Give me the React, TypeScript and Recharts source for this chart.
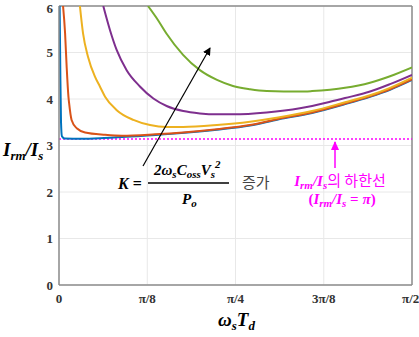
import React from 'react';
import { LineChart, Line, XAxis, YAxis, CartesianGrid, ReferenceLine } from 'recharts';

// x = ωs·Td (rad), y = Irm/Is, one curve per K value (K grows blue -> green)
const xTicks = [0, Math.PI / 8, Math.PI / 4, (3 * Math.PI) / 8, Math.PI / 2];
const xTickLabels = ['0', 'π/8', 'π/4', '3π/8', 'π/2'];
const yTicks = [0, 1, 2, 3, 4, 5, 6];

const blueX = [0.003, 0.006, 0.009, 0.013, 0.025, 0.1, 0.2, 0.35, 0.5, 0.703, 0.85, 0.975, 1.126, 1.273, 1.384, 1.473, 1.571];
const blueY = [6.0, 4.5, 3.5, 3.2, 3.15, 3.145, 3.16, 3.2, 3.25, 3.34, 3.43, 3.56, 3.7, 3.89, 4.05, 4.2, 4.41];

const orangeX = [0.018, 0.027, 0.034, 0.042, 0.045, 0.056, 0.079, 0.116, 0.205, 0.28, 0.427, 0.552, 0.703, 0.85, 0.975, 1.126, 1.273, 1.384, 1.473, 1.571];
const orangeY = [6.0, 5.42, 4.7, 4.05, 3.91, 3.55, 3.37, 3.28, 3.23, 3.21, 3.24, 3.28, 3.35, 3.44, 3.57, 3.71, 3.9, 4.06, 4.21, 4.42];

const yellowX = [0.093, 0.107, 0.129, 0.16, 0.182, 0.205, 0.257, 0.331, 0.405, 0.479, 0.552, 0.703, 0.85, 0.975, 1.126, 1.273, 1.384, 1.473, 1.571];
const yellowY = [6.0, 5.41, 4.91, 4.48, 4.27, 4.05, 3.76, 3.55, 3.44, 3.4, 3.4, 3.44, 3.51, 3.6, 3.74, 3.93, 4.08, 4.24, 4.46];

const purpleX = [0.197, 0.227, 0.257, 0.301, 0.36, 0.42, 0.479, 0.553, 0.627, 0.702, 0.776, 0.924, 1.072, 1.206, 1.273, 1.384, 1.473, 1.571];
const purpleY = [6.0, 5.48, 5.05, 4.62, 4.27, 4.01, 3.85, 3.74, 3.69, 3.67, 3.67, 3.71, 3.8, 3.94, 4.02, 4.16, 4.32, 4.52];

const greenX = [0.396, 0.44, 0.478, 0.552, 0.627, 0.703, 0.774, 0.85, 0.924, 1.0, 1.072, 1.126, 1.206, 1.273, 1.384, 1.473, 1.571];
const greenY = [6.0, 5.7, 5.41, 4.95, 4.62, 4.41, 4.28, 4.21, 4.17, 4.16, 4.16, 4.17, 4.2, 4.24, 4.35, 4.49, 4.68];

const toPoints = (xs: number[], ys: number[]) => xs.map((x, i) => ({ x, y: ys[i] }));

const series = [
  { name: 'k1', data: toPoints(blueX, blueY), color: '#0072BD' },
  { name: 'k2', data: toPoints(orangeX, orangeY), color: '#D95319' },
  { name: 'k3', data: toPoints(yellowX, yellowY), color: '#EDB120' },
  { name: 'k4', data: toPoints(purpleX, purpleY), color: '#7E2F8E' },
  { name: 'k5', data: toPoints(greenX, greenY), color: '#77AC30' },
];

const serif = '"Liberation Serif", "Times New Roman", serif';
const kr = '"Noto Sans CJK KR", sans-serif';
const axisGray = '#8c8c8c';
const tickStyle = { fontFamily: serif, fontWeight: 'bold' as const, fontSize: 13, fill: '#333' };

const App: React.FC = () => {
  return (
    <div style={{ position: 'absolute', left: 0, top: 0, width: 419, height: 337, background: '#fff' }}>
      <LineChart width={419} height={337} margin={{ top: 6, right: 7, bottom: 0, left: 0 }}>
        <CartesianGrid stroke="#e8e8e8" verticalValues={xTicks} horizontalValues={yTicks} />
        <XAxis
          type="number"
          dataKey="x"
          domain={[0, Math.PI / 2]}
          ticks={xTicks}
          tickFormatter={(v: number) => xTickLabels[xTicks.findIndex(t => Math.abs(t - v) < 1e-6)] ?? ''}
          height={52}
          tickLine={false}
          tickSize={4}
          tickMargin={5}
          tick={tickStyle}
          stroke={axisGray}
          strokeWidth={1.5}
          allowDataOverflow
        />
        <YAxis
          type="number"
          domain={[0, 6]}
          ticks={yTicks}
          width={59}
          tickLine={false}
          tickSize={3}
          tickMargin={3}
          tick={tickStyle}
          stroke={axisGray}
          strokeWidth={1.5}
          allowDataOverflow
        />
        <ReferenceLine y={6} stroke={axisGray} strokeWidth={1.5} />
        <ReferenceLine x={Math.PI / 2} stroke={axisGray} strokeWidth={1.5} />
        <ReferenceLine y={Math.PI} stroke="#FF00FF" strokeWidth={1.5} strokeDasharray="2 2" />
        {series.map(s => (
          <Line
            key={s.name}
            data={s.data}
            dataKey="y"
            type="monotone"
            stroke={s.color}
            strokeWidth={2}
            dot={false}
            isAnimationActive={false}
          />
        ))}
      </LineChart>

      {/* annotations */}
      <svg width={419} height={337} style={{ position: 'absolute', left: 0, top: 0, pointerEvents: 'none' }}>
        <defs>
          <marker id="blackHead" markerWidth="8" markerHeight="8" refX="7" refY="4" orient="auto" markerUnits="userSpaceOnUse">
            <path d="M0,0 L8,4 L0,8 Z" fill="#000" />
          </marker>
          <marker id="pinkHead" markerWidth="9" markerHeight="8" refX="8" refY="4" orient="auto" markerUnits="userSpaceOnUse">
            <path d="M0,0 L9,4 L0,8 Z" fill="#FF00FF" />
          </marker>
        </defs>

        {/* y axis title */}
        <text x={3} y={156} fontFamily={serif} fontWeight="bold" fontStyle="italic" fontSize={19} fill="#000">
          I<tspan fontSize={13} dy={4}>rm</tspan>
          <tspan dy={-4}>/I</tspan>
          <tspan fontSize={13} dy={4}>s</tspan>
        </text>

        {/* x axis title */}
        <text x={218} y={326} fontFamily={serif} fontWeight="bold" fontStyle="italic" fontSize={19} fill="#000">
          ω<tspan fontSize={13} dy={4}>s</tspan>
          <tspan dy={-4}>T</tspan>
          <tspan fontSize={13} dy={4}>d</tspan>
        </text>

        {/* K arrow */}
        <line x1={143} y1={166} x2={210} y2={48} stroke="#000" strokeWidth={1.2} markerEnd="url(#blackHead)" />
        <text x={118} y={189} fontFamily={serif} fontWeight="bold" fontSize={16} fill="#000">
          <tspan fontStyle="italic">K</tspan> =
        </text>
        <text x={154} y={175} fontFamily={serif} fontWeight="bold" fontStyle="italic" fontSize={15} fill="#000">
          2ω<tspan fontSize={11} dy={3}>s</tspan>
          <tspan dy={-3}>C</tspan>
          <tspan fontSize={11} dy={3}>oss</tspan>
          <tspan dy={-3}>V</tspan>
          <tspan fontSize={11} dy={3}>s</tspan>
          <tspan fontSize={11} dy={-10}>2</tspan>
        </text>
        <line x1={148} y1={183} x2={229} y2={183} stroke="#000" strokeWidth={1.3} />
        <text x={182} y={204} fontFamily={serif} fontWeight="bold" fontStyle="italic" fontSize={15} fill="#000">
          P<tspan fontSize={11} dy={3}>o</tspan>
        </text>
        <text x={242} y={188} fontFamily={kr} fontSize={15} fill="#444">증가</text>

        {/* lower bound note */}
        <line x1={335} y1={168} x2={335} y2={142} stroke="#FF00FF" strokeWidth={1.5} markerEnd="url(#pinkHead)" />
        <text x={340} y={186} textAnchor="middle" fontSize={15} fill="#FF00FF">
          <tspan fontFamily={serif} fontWeight="bold" fontStyle="italic">I</tspan>
          <tspan fontFamily={serif} fontWeight="bold" fontStyle="italic" fontSize={11} dy={3}>rm</tspan>
          <tspan fontFamily={serif} fontWeight="bold" fontStyle="italic" dy={-3}>/I</tspan>
          <tspan fontFamily={serif} fontWeight="bold" fontStyle="italic" fontSize={11} dy={3}>s</tspan>
          <tspan fontFamily={kr} dy={-3}>의 하한선</tspan>
        </text>
        <text x={342} y={204} textAnchor="middle" fontFamily={serif} fontWeight="bold" fontSize={15} fill="#FF00FF">
          (<tspan fontStyle="italic">I</tspan>
          <tspan fontStyle="italic" fontSize={11} dy={3}>rm</tspan>
          <tspan fontStyle="italic" dy={-3}>/I</tspan>
          <tspan fontStyle="italic" fontSize={11} dy={3}>s</tspan>
          <tspan dy={-3}> = </tspan>
          <tspan fontStyle="italic">π</tspan>)
        </text>
      </svg>
    </div>
  );
};

export default App;
